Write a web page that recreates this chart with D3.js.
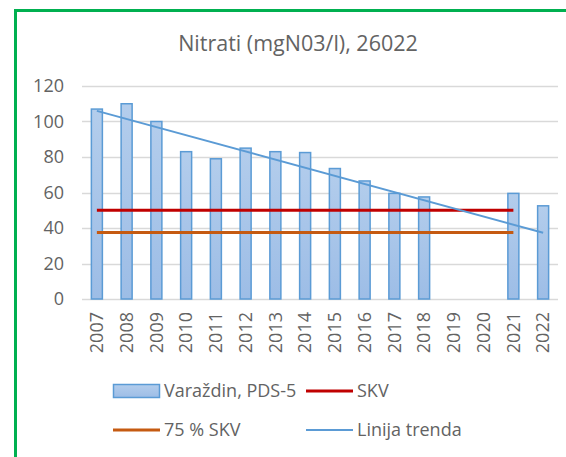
<!DOCTYPE html>
<html>
<head>
<meta charset="utf-8">
<script src="https://cdn.jsdelivr.net/npm/d3@7"></script>
<style>
  body { margin: 0; background: #fff; }
  text { font-family: "Open Sans", Lato, sans-serif; fill: #636363; }
</style>
</head>
<body>
<div id="main"></div>
<script>
// data
var years = ["2007","2008","2009","2010","2011","2012","2013","2014","2015","2016","2017","2018","2019","2020","2021","2022"];
var nitrate = [107, 110, 100, 83, 79, 85, 83, 82.5, 73.5, 66.5, 59.5, 57.5, null, null, 59.5, 52.5];
var skvYears = ["2007", "2021"];
var skv = [50, 50];
var skv75 = [37.5, 37.5];
var trendYears = ["2007", "2022"];
var trend = [106, 37.3];
var yTicks = [0, 20, 40, 60, 80, 100, 120];

var W = 566, H = 457;
var margin = {top: 86, right: 8, bottom: 158, left: 82},
    width = W - margin.left - margin.right,
    height = H - margin.top - margin.bottom;

var root = d3.select("#main")
  .append("svg")
    .attr("width", W)
    .attr("height", H);

// green frame (runs off right and bottom)
root.append("path")
  .attr("d", "M15.5," + (H + 5) + "V10.5H" + (W + 5))
  .attr("fill", "none")
  .attr("stroke", "#00b050")
  .attr("stroke-width", 3);

root.append("text")
  .attr("x", 298)
  .attr("y", 51)
  .attr("text-anchor", "middle")
  .style("font-size", "21.5px")
  .text("Nitrati (mgN03/l), 26022");

var svg = root.append("g")
  .attr("transform", "translate(" + margin.left + "," + margin.top + ")");

var x = d3.scaleBand()
  .domain(years)
  .range([0, width])
  .paddingInner(0.63)
  .paddingOuter(0.315);

var y = d3.scaleLinear()
  .domain([0, 120])
  .range([height, 0]);

var cx = function(d) { return x(d) + x.bandwidth() / 2; };

// gridlines
svg.append("g")
  .selectAll("line")
  .data(yTicks)
  .enter().append("line")
    .attr("x1", 0)
    .attr("x2", width)
    .attr("y1", function(d) { return Math.round(y(d)) + 0.5; })
    .attr("y2", function(d) { return Math.round(y(d)) + 0.5; })
    .attr("stroke", "#d9d9d9")
    .attr("stroke-width", 1.5);

// y labels
var yAxis = svg.append("g")
  .call(d3.axisLeft(y).tickValues(yTicks).tickSize(0).tickPadding(18));
yAxis.select(".domain").remove();
yAxis.selectAll("text").style("font-size", "18px").attr("fill", "#636363");

// x labels
var xAxis = svg.append("g")
  .attr("transform", "translate(0," + height + ")")
  .call(d3.axisBottom(x).tickSize(0));
xAxis.select(".domain").remove();
xAxis.selectAll("text")
  .style("font-size", "18px")
  .attr("fill", "#636363")
  .attr("text-anchor", "end")
  .attr("dy", "0.35em")
  .attr("transform", "translate(0,13)rotate(-90)")
  .attr("x", 0)
  .attr("y", 0);

// bars
var defs = root.append("defs");
var grad = defs.append("linearGradient")
  .attr("id", "barFill")
  .attr("x1", 0).attr("x2", 0).attr("y1", 0).attr("y2", 1);
grad.append("stop").attr("offset", "0%").attr("stop-color", "#b3cdec");
grad.append("stop").attr("offset", "100%").attr("stop-color", "#9dbde6");

var barData = years.map(function(d, i) { return {year: d, value: nitrate[i]}; })
  .filter(function(d) { return d.value != null; });

svg.selectAll("rect.bar")
  .data(barData)
  .enter().append("rect")
    .attr("class", "bar")
    .attr("x", function(d) { return x(d.year); })
    .attr("y", function(d) { return y(d.value); })
    .attr("width", x.bandwidth())
    .attr("height", function(d) { return height - y(d.value); })
    .attr("fill", "url(#barFill)")
    .attr("stroke", "#5b9bd5")
    .attr("stroke-width", 1.5);

var line = d3.line()
  .x(function(d) { return cx(d[0]); })
  .y(function(d) { return y(d[1]); });

svg.append("path")
  .datum(d3.zip(skvYears, skv75))
  .attr("d", line)
  .attr("fill", "none")
  .attr("stroke", "#c55a11")
  .attr("stroke-width", 3);

svg.append("path")
  .datum(d3.zip(skvYears, skv))
  .attr("d", line)
  .attr("fill", "none")
  .attr("stroke", "#c00000")
  .attr("stroke-width", 3);

svg.append("path")
  .datum(d3.zip(trendYears, trend))
  .attr("d", line)
  .attr("fill", "none")
  .attr("stroke", "#5b9bd5")
  .attr("stroke-width", 2);

// legend
var legend = root.append("g");
var items = [
  {label: "Varaždin, PDS-5", type: "bar", color: "#5b9bd5", x: 113, y: 391},
  {label: "SKV", type: "line", color: "#c00000", x: 306, y: 391},
  {label: "75 % SKV", type: "line", color: "#c55a11", x: 113, y: 430},
  {label: "Linija trenda", type: "line", color: "#5b9bd5", x: 306, y: 430}
];
items.forEach(function(it) {
  var g = legend.append("g").attr("transform", "translate(" + it.x + "," + it.y + ")");
  if (it.type == "bar") {
    g.append("rect")
      .attr("x", 0.5).attr("y", -6.5)
      .attr("width", 46).attr("height", 13)
      .attr("fill", "url(#barFill)")
      .attr("stroke", it.color)
      .attr("stroke-width", 1.5);
  } else {
    g.append("line")
      .attr("x1", 0).attr("x2", 47)
      .attr("y1", 0).attr("y2", 0)
      .attr("stroke", it.color)
      .attr("stroke-width", it.label == "Linija trenda" ? 2 : 3);
  }
  g.append("text")
    .attr("x", 51)
    .attr("y", 0)
    .attr("dy", "0.35em")
    .style("font-size", "18px")
    .text(it.label);
});
</script>
</body>
</html>
